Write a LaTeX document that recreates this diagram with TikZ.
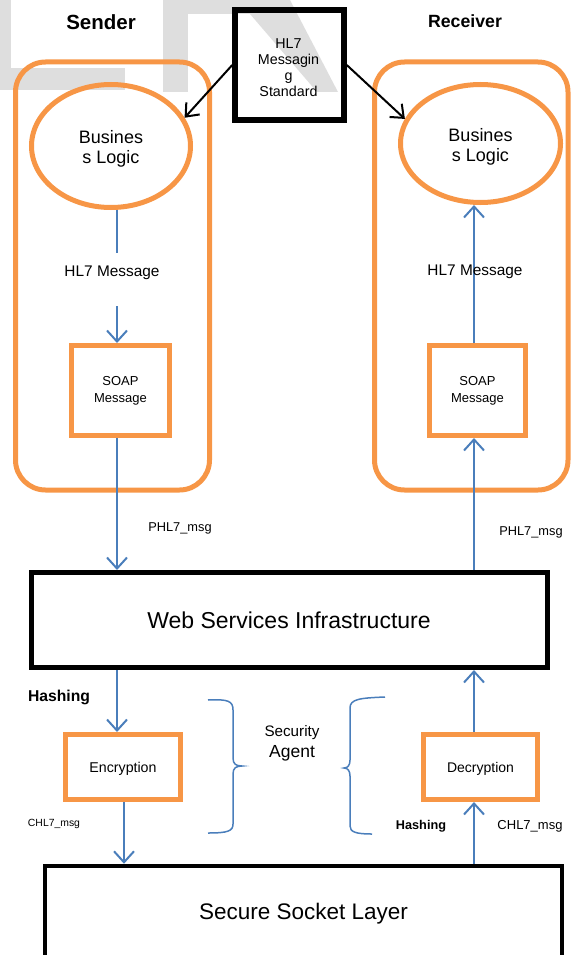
\documentclass[tikz,border=0pt]{standalone}
\usepackage{fontspec}
\setmainfont{Liberation Sans}
\usetikzlibrary{arrows.meta,shapes.geometric}
\definecolor{org}{HTML}{F79646}
\definecolor{blu}{HTML}{4A7EBB}
\definecolor{wm}{HTML}{DEDEDE}
\begin{document}
\begin{tikzpicture}[x=1pt,y=-1pt,
  obox/.style={draw=org,line width=5pt,inner sep=0pt,align=center},
  kbox/.style={draw=black,line width=5pt,inner sep=0pt,align=center},
  barr/.style={blu,line width=2pt,-{Straight Barb[length=11pt,width=20pt]}},
  bline/.style={blu,line width=2pt},
  karr/.style={black,line width=2pt,-{Straight Barb[length=11pt,width=18pt]}},
  brace/.style={blu,line width=1.5pt},
  lbl/.style={inner sep=0pt,align=center}]
\useasboundingbox (0,0) rectangle (572,955);
\begin{scope}
\clip (0,0) rectangle (572,955);
% watermark
\fill[wm] (0,0) rectangle (11,90);
\fill[wm] (0,68) rectangle (125,90);
\fill[wm] (163,0) rectangle (188,92);
\fill[wm] (188,0) -- (290,0) -- (338,92) -- (317,92) -- (250,14) -- (188,14) -- cycle;

% titles
\node[lbl,font=\bfseries\fontsize{20.5}{24}\selectfont] (sender) at (101,22) {Sender};
\node[lbl,font=\bfseries\fontsize{17.7}{21}\selectfont] (receiver) at (465,21) {Receiver};

% container boxes
\node[obox,rounded corners=30pt,minimum width=194pt,minimum height=428pt] (sbox) at (112.5,276) {};
\node[obox,rounded corners=30pt,minimum width=193.5pt,minimum height=428pt] (rbox) at (471.25,276) {};

% business logic
\node[obox,ellipse,minimum width=159pt,minimum height=123pt] (sell) at (111,146) {};
\node[lbl,font=\fontsize{18}{20}\selectfont] (sellt) at (111,149) {Busines\\s Logic};
\node[obox,ellipse,minimum width=160pt,minimum height=118pt] (rell) at (480.5,143.5) {};
\node[lbl,font=\fontsize{18}{20}\selectfont] (rellt) at (480.5,147) {Busines\\s Logic};

% HL7 standard
\node[kbox,line width=5.5pt,minimum width=109pt,minimum height=110pt] (hl7) at (289.5,65) {};
\node[lbl,font=\fontsize{14.3}{16}\selectfont] (hl7t) at (288.5,67.5) {HL7\\Messagin\\g\\Standard};

% SOAP boxes
\node[obox,minimum width=98pt,minimum height=90pt,font=\fontsize{13}{17}\selectfont] (ssoap) at (120.5,390.5) {SOAP\\Message};
\node[obox,minimum width=96pt,minimum height=90pt,font=\fontsize{13}{17}\selectfont] (rsoap) at (477.5,390.5) {SOAP\\Message};

% labels
\node[lbl,font=\fontsize{15.4}{18}\selectfont] (shl7) at (112,273) {HL7 Message};
\node[lbl,font=\fontsize{12.8}{15}\selectfont] (sph) at (180,528) {PHL7\_msg};
\node[lbl,font=\fontsize{12.8}{15}\selectfont] (rph) at (531,532) {PHL7\_msg};

% WSI
\node[kbox,minimum width=516pt,minimum height=95pt,font=\fontsize{23}{27}\selectfont] (wsi) at (289,620) {Web Services Infrastructure};

% security agent
\node[obox,minimum width=115pt,minimum height=65pt] (enc) at (123,767) {};
\node[lbl,font=\fontsize{14.2}{17}\selectfont] (enct) at (123,769) {Encryption};
\node[obox,minimum width=114pt,minimum height=65pt] (dec) at (480.5,767) {};
\node[lbl,font=\fontsize{14}{17}\selectfont] (dect) at (480.5,769) {Decryption};
\node[lbl,font=\bfseries\fontsize{15.7}{18}\selectfont] (shash) at (59,697) {Hashing};
\node[lbl,font=\bfseries\fontsize{12.7}{15}\selectfont] (rhash) at (421,826) {Hashing};
\node[lbl,font=\fontsize{10.4}{12}\selectfont] (sch) at (54,824) {CHL7\_msg};
\node[lbl,font=\fontsize{13}{15}\selectfont] (rch) at (530,826) {CHL7\_msg};
\node[lbl,font=\fontsize{15.2}{18}\selectfont] (sec1) at (292,733) {Security};
\node[lbl,font=\fontsize{17.5}{20}\selectfont] (sec2) at (292,753) {Agent};

% SSL
\node[kbox,line width=4.5pt,minimum width=517pt,minimum height=130pt] (ssl) at (303.5,931) {};
\node[lbl,font=\fontsize{22.5}{26}\selectfont] (ssltext) at (303.5,914) {Secure Socket Layer};

% line x positions
\coordinate (lx) at (117,0);
\coordinate (rx) at (474,0);
\coordinate (lx2) at (124,0);
\coordinate (lgapa) at (117,253);
\coordinate (lgapb) at (117,306);

% blue connectors
\draw[bline] (lx |- sell.south) -- (lgapa);
\draw[barr] (lgapb) -- (lx |- ssoap.north);
\draw[barr] (lx |- ssoap.south) -- (lx |- wsi.north);
\draw[barr] (rx |- wsi.north) -- (rx |- rsoap.south);
\draw[barr] (rx |- rsoap.north) -- (rx |- rell.south);
\draw[barr] (lx |- wsi.south) -- (lx |- enc.north);
\draw[barr] (lx2 |- enc.south) -- (lx2 |- ssl.north);
\draw[barr] (rx |- dec.north) -- (rx |- wsi.south);
\draw[barr] (rx |- ssl.north) -- (rx |- dec.south);

% right HL7 Message label over the line
\node[lbl,font=\fontsize{15.4}{18}\selectfont] (rhl7) at (475,272) {HL7 Message};

% black connectors
\draw[karr] (hl7.west) -- (sell.21);
\draw[karr] (hl7.east) -- (rell.162);

% braces
\draw[brace] (208,700) .. controls (228,699) and (233,701) .. (233,710) -- (233,758)
  .. controls (233,764) and (236,766) .. (242,766)
  .. controls (236,766) and (233,768) .. (233,774) -- (233,824)
  .. controls (233,831) and (228,833) .. (208,833);
\draw[brace] (385,697) .. controls (360,698) and (350,699) .. (350,708) -- (350,760)
  .. controls (350,765) and (348,768) .. (344,768)
  .. controls (348,768) and (350,771) .. (350,776) -- (350,826)
  .. controls (350,832) and (356,834) .. (372,834);
\end{scope}
\end{tikzpicture}
\end{document}
